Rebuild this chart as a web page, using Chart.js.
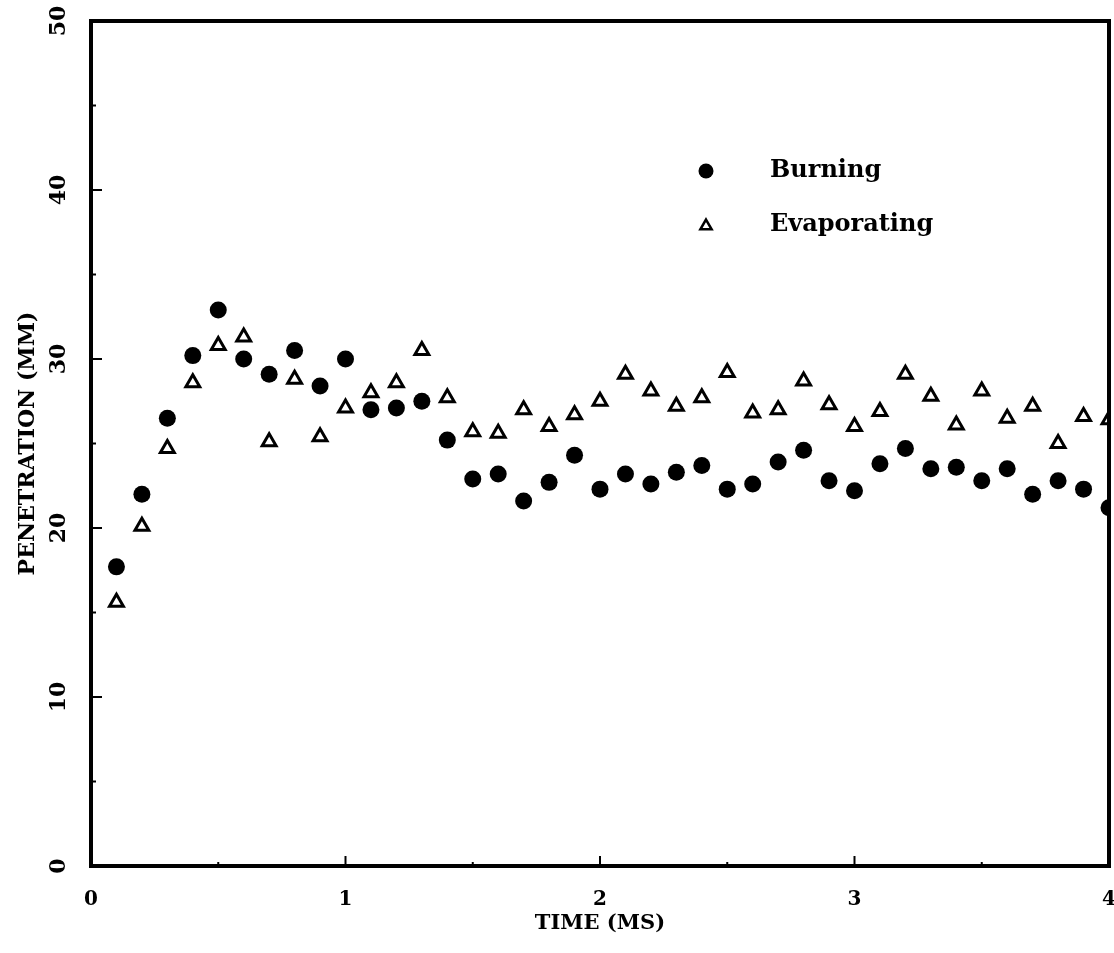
<!DOCTYPE html>
<html>
<head>
<meta charset="utf-8">
<script src="https://cdn.jsdelivr.net/npm/chart.js@4/dist/chart.umd.min.js"></script>
<style>
  html, body { margin: 0; padding: 0; background: #fff; }
  #wrap { width: 1114px; height: 953px; }
</style>
</head>
<body>
<div id="wrap"><canvas id="c" width="1114" height="953"></canvas></div>
<script>
// ---- data ----
const time = [0.1, 0.2, 0.3, 0.4, 0.5, 0.6, 0.7, 0.8, 0.9, 1.0,
              1.1, 1.2, 1.3, 1.4, 1.5, 1.6, 1.7, 1.8, 1.9, 2.0,
              2.1, 2.2, 2.3, 2.4, 2.5, 2.6, 2.7, 2.8, 2.9, 3.0,
              3.1, 3.2, 3.3, 3.4, 3.5, 3.6, 3.7, 3.8, 3.9, 4.0];
const burning = [17.7, 22.0, 26.5, 30.2, 32.9, 30.0, 29.1, 30.5, 28.4, 30.0,
                 27.0, 27.1, 27.5, 25.2, 22.9, 23.2, 21.6, 22.7, 24.3, 22.3,
                 23.2, 22.6, 23.3, 23.7, 22.3, 22.6, 23.9, 24.6, 22.8, 22.2,
                 23.8, 24.7, 23.5, 23.6, 22.8, 23.5, 22.0, 22.8, 22.3, 21.2];
const evaporating = [15.6, 20.1, 24.7, 28.6, 30.8, 31.3, 25.1, 28.8, 25.4, 27.1,
                     28.0, 28.6, 30.5, 27.7, 25.7, 25.6, 27.0, 26.0, 26.7, 27.5,
                     29.1, 28.1, 27.2, 27.7, 29.2, 26.8, 27.0, 28.7, 27.3, 26.0,
                     26.9, 29.1, 27.8, 26.1, 28.1, 26.5, 27.2, 25.0, 26.6, 26.4];
const seriesNames = ['Burning', 'Evaporating'];
const xTickLabels = ['0', '1', '2', '3', '4'];
const yTickLabels = ['0', '10', '20', '30', '40', '50'];
const xTitle = 'TIME (MS)';
const yTitle = 'PENETRATION (MM)';

const FONT = '"DejaVu Serif", "Liberation Serif", serif';

function drawMarker(ctx, style, x, y, r, bw) {
  ctx.save();
  ctx.beginPath();
  if (style === 'circle') {
    ctx.arc(x, y, r, 0, Math.PI * 2);
    ctx.fillStyle = '#000';
    ctx.fill();
  } else {
    const a = 2 * Math.PI / 3;
    for (let k = 0; k < 3; k++) {
      const px = x + Math.sin(k * a) * r, py = y - Math.cos(k * a) * r;
      if (k === 0) ctx.moveTo(px, py); else ctx.lineTo(px, py);
    }
    ctx.closePath();
    ctx.fillStyle = '#fff';
    ctx.fill();
    ctx.lineWidth = bw;
    ctx.strokeStyle = '#000';
    ctx.stroke();
  }
  ctx.restore();
}

const framePlugin = {
  id: 'frame',
  afterDatasetsDraw(chart) {
    const {ctx, chartArea: a, scales: {x, y}} = chart;
    ctx.save();
    ctx.strokeStyle = '#000';
    ctx.lineCap = 'butt';
    ctx.lineWidth = 2;
    y.ticks.forEach(t => {
      const py = y.getPixelForValue(t.value);
      const len = (t.value % 10 === 0) ? 11 : 5;
      ctx.beginPath(); ctx.moveTo(a.left, py); ctx.lineTo(a.left + len, py); ctx.stroke();
    });
    x.ticks.forEach(t => {
      const px = x.getPixelForValue(t.value);
      const len = Number.isInteger(t.value) ? 10 : 4;
      ctx.beginPath(); ctx.moveTo(px, a.bottom); ctx.lineTo(px, a.bottom - len); ctx.stroke();
    });
    ctx.lineWidth = 4;
    ctx.strokeRect(a.left, a.top, a.right - a.left, a.bottom - a.top);
    ctx.restore();

    // legend
    const lx = 706, ltx = 770, rows = [171, 225];
    ctx.save();
    ctx.font = 'bold 24px ' + FONT;
    ctx.fillStyle = '#000';
    ctx.textBaseline = 'middle';
    ctx.textAlign = 'left';
    drawMarker(ctx, 'circle', lx, rows[0], 7.5, 0);
    drawMarker(ctx, 'triangle', lx, rows[1] + 1, 6.5, 2.5);
    ctx.fillText(seriesNames[0], ltx, rows[0]);
    ctx.fillText(seriesNames[1], ltx, rows[1]);
    ctx.restore();
  }
};

const ctx = document.getElementById('c').getContext('2d');
new Chart(ctx, {
  type: 'scatter',
  data: {
    datasets: [
      {
        label: seriesNames[0],
        data: time.map((t, i) => ({x: t, y: burning[i]})),
        pointStyle: 'circle',
        pointRadius: 8.5,
        backgroundColor: '#000',
        borderColor: '#000',
        borderWidth: 0
      },
      {
        label: seriesNames[1],
        data: time.map((t, i) => ({x: t, y: evaporating[i]})),
        pointStyle: 'triangle',
        pointRadius: 8,
        backgroundColor: '#fff',
        borderColor: '#000',
        borderWidth: 3
      }
    ]
  },
  options: {
    responsive: false,
    animation: false,
    layout: { autoPadding: false, padding: { top: 21, right: 5, left: 0, bottom: 0 } },
    plugins: {
      legend: { display: false },
      tooltip: { enabled: false }
    },
    scales: {
      x: {
        type: 'linear',
        min: 0, max: 4,
        grid: { display: false, drawTicks: false },
        border: { display: false },
        ticks: {
          stepSize: 0.5,
          padding: 22,
          color: '#000',
          font: { family: FONT, size: 20, weight: 'bold' },
          maxRotation: 0,
          autoSkip: false,
          callback: v => Number.isInteger(v) ? xTickLabels[v] : ''
        },
        title: {
          display: true,
          text: xTitle,
          color: '#000',
          font: { family: FONT, size: 21, weight: 'bold' },
          padding: { top: 0, bottom: 17 }
        },
        afterFit: s => { s.height = 87; s.paddingLeft = 0; s.paddingRight = 0; s.paddingTop = 0; s.paddingBottom = 0; }
      },
      y: {
        type: 'linear',
        min: 0, max: 50,
        grid: { display: false, drawTicks: false },
        border: { display: false },
        ticks: {
          stepSize: 5,
          padding: 16,
          minRotation: 90,
          maxRotation: 90,
          crossAlign: 'center',
          color: '#000',
          autoSkip: false,
          font: { family: FONT, size: 22, weight: 'bold' },
          callback: v => (v % 10 === 0) ? yTickLabels[v / 10] : ''
        },
        title: {
          display: true,
          text: yTitle,
          color: '#000',
          font: { family: FONT, size: 22, weight: 'bold' },
          padding: { top: 15, bottom: 0 }
        },
        afterFit: s => { s.width = 91; s.paddingLeft = 0; s.paddingRight = 0; s.paddingTop = 0; s.paddingBottom = 0; }
      }
    }
  },
  plugins: [framePlugin]
});
</script>
</body>
</html>
